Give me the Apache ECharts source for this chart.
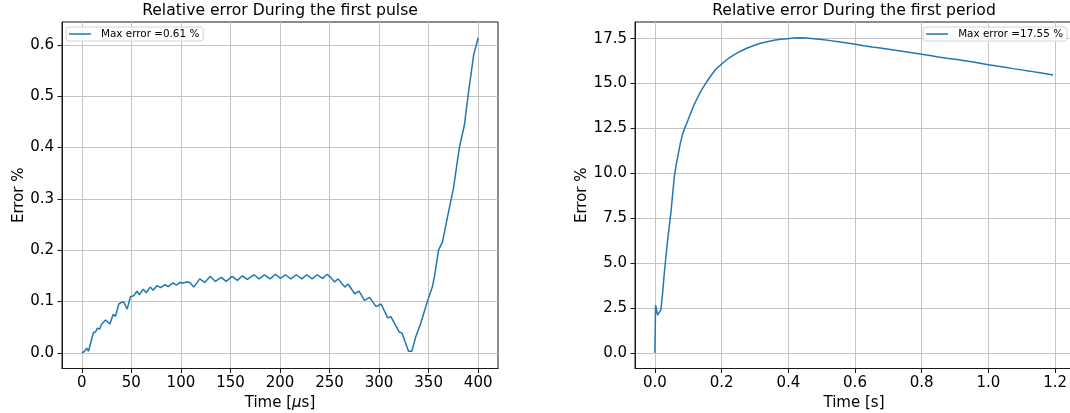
<!DOCTYPE html>
<html>
<head>
<meta charset="utf-8">
<script src="https://cdn.jsdelivr.net/npm/echarts@6/dist/echarts.min.js"></script>
<style>
html,body{margin:0;padding:0;background:#fff;}
#chart{width:1070px;height:413px;}
</style>
</head>
<body>
<div id="chart"></div>
<script>
// ---- Data ----
const pulseTime = [0,2.3,5,6.7,8.3,11.7,14,15.7,18,19.7,21.7,24,25.7,28.3,31.7,34,37.3,40,42.3,45.7,49,52.3,55.7,58,62,65,69,72,76,79.7,84,87,92,95.7,99,102,106,109,113,119,124,129.7,134.7,140.7,145.7,151.7,157,162,167,173.7,179,184.3,190,195.4,200.5,205.4,211,216.4,222,227,232.5,237.6,243,247.6,251,255,258.6,265.4,268.7,275.4,279.7,285.3,290.4,297,302,308.7,312,320.4,323,329.7,333,337,342,343.7,348.7,353.7,356,360,364,370,375,381,386,390,395.5,400];
const pulseErr = [0,0.002,0.009,0.003,0.0,0.039,0.041,0.048,0.046,0.055,0.052,0.064,0.066,0.056,0.075,0.071,0.095,0.098,0.099,0.085,0.109,0.111,0.120,0.113,0.124,0.117,0.128,0.122,0.131,0.127,0.133,0.129,0.136,0.132,0.137,0.136,0.138,0.137,0.128,0.144,0.137,0.149,0.139,0.147,0.139,0.149,0.141,0.150,0.143,0.152,0.144,0.152,0.144,0.153,0.145,0.152,0.144,0.152,0.144,0.152,0.144,0.152,0.145,0.153,0.147,0.138,0.144,0.128,0.134,0.115,0.120,0.102,0.108,0.090,0.095,0.068,0.070,0.040,0.039,0.003,0.003,0.031,0.057,0.059,0.100,0.128,0.150,0.200,0.216,0.274,0.320,0.400,0.443,0.504,0.581,0.614];

const periodTime = [0,0.002,0.008,0.012,0.018,0.023,0.028,0.033,0.038,0.043,0.048,0.053,0.058,0.064,0.070,0.076,0.083,0.090,0.098,0.108,0.118,0.128,0.138,0.148,0.158,0.170,0.182,0.195,0.207,0.222,0.237,0.257,0.277,0.297,0.317,0.337,0.357,0.377,0.397,0.416,0.436,0.456,0.476,0.501,0.526,0.551,0.576,0.601,0.626,0.651,0.676,0.701,0.726,0.751,0.776,0.800,0.825,0.850,0.875,0.900,0.925,0.950,0.975,1.000,1.025,1.050,1.074,1.099,1.124,1.159,1.194];
const periodErr = [0,2.65,2.1,2.05,2.4,3.3,4.4,5.35,6.25,7.05,7.8,8.8,9.77,10.5,11.07,11.65,12.18,12.55,12.9,13.38,13.84,14.22,14.58,14.88,15.17,15.49,15.78,16.0,16.2,16.42,16.6,16.8,16.98,17.12,17.24,17.33,17.41,17.46,17.5,17.53,17.55,17.53,17.5,17.45,17.39,17.33,17.26,17.19,17.11,17.04,16.98,16.91,16.84,16.77,16.7,16.63,16.56,16.48,16.41,16.35,16.28,16.21,16.13,16.05,15.97,15.9,15.83,15.76,15.69,15.58,15.47];

const pulseXTicks = [0,50,100,150,200,250,300,350,400];
const pulseYTicks = [0,0.1,0.2,0.3,0.4,0.5,0.6];
const periodXTicks = [0,0.2,0.4,0.6,0.8,1.0,1.2];
const periodYTicks = [0,2.5,5,7.5,10,12.5,15,17.5];

const titles = ['Relative error During the first pulse','Relative error During the first period'];
const seriesNames = ['Max error =0.61 %','Max error =17.55 %'];

// ---- Styling ----
const FONT = 'DejaVu Sans';
const LINE = '#1f77b4';
const FRAME = '#1a1a1a';
const GRIDC = '#c4c4c4';
const TICKFS = 15;
const NAMEFS = 15;

function xAxisCfg(idx, min, max, ticks, fmt, name){
  return {
    type:'value', gridIndex:idx, min:min, max:max,
    name:name, nameLocation:'middle', nameGap:22,
    nameTextStyle:{fontFamily:FONT,fontSize:NAMEFS,color:'#000',
      rich:{i:{fontFamily:FONT,fontSize:NAMEFS,fontStyle:'italic',color:'#000'}}},
    axisLine:{show:true,onZero:false,lineStyle:{color:FRAME,width:1}},
    axisTick:{show:true,inside:false,length:4.5,lineStyle:{color:FRAME,width:1},customValues:ticks},
    axisLabel:{show:true,margin:7,fontFamily:FONT,fontSize:TICKFS,color:'#000',customValues:ticks,formatter:fmt,hideOverlap:false,showMinLabel:true,showMaxLabel:true},
    splitLine:{show:true,lineStyle:{color:GRIDC,width:1}},
    minorTick:{show:false}
  };
}
function yAxisCfg(idx, min, max, ticks, fmt, gap){
  return {
    type:'value', gridIndex:idx, min:min, max:max,
    name:'Error %', nameLocation:'middle', nameGap:gap, nameRotate:90,
    nameTextStyle:{fontFamily:FONT,fontSize:NAMEFS,color:'#000'},
    axisLine:{show:true,onZero:false,lineStyle:{color:FRAME,width:1}},
    axisTick:{show:true,inside:false,length:4.5,lineStyle:{color:FRAME,width:1},customValues:ticks},
    axisLabel:{show:true,margin:8,fontFamily:FONT,fontSize:TICKFS,color:'#000',customValues:ticks,formatter:fmt,hideOverlap:false},
    splitLine:{show:true,lineStyle:{color:GRIDC,width:1}},
    minorTick:{show:false}
  };
}
function legendCfg(name, pos){
  return Object.assign({
    data:[name], top:27, orient:'horizontal',
    icon:'rect', itemWidth:22, itemHeight:1.5,
    padding:[2,4,2,3],
    backgroundColor:'rgba(255,255,255,0.8)', borderColor:'#d4d4d4', borderWidth:1, borderRadius:3,
    textStyle:{fontFamily:FONT,fontSize:10.4,color:'#000',padding:[0,0,0,5]},
    selectedMode:false
  }, pos);
}

const chart = echarts.init(document.getElementById('chart'), null, {renderer:'canvas'});
chart.setOption({
  animation:false,
  backgroundColor:'#fff',
  title:[
    {text:titles[0], left:280, top:3, textAlign:'center', padding:0,
     textStyle:{fontFamily:FONT,fontSize:15.6,fontWeight:'normal',color:'#000'}},
    {text:titles[1], left:854, top:3, textAlign:'center', padding:0,
     textStyle:{fontFamily:FONT,fontSize:15.6,fontWeight:'normal',color:'#000'}}
  ],
  legend:[
    legendCfg(seriesNames[0], {left:66}),
    legendCfg(seriesNames[1], {right:3})
  ],
  grid:[
    {left:62, top:22, width:436, height:346.5, show:true, borderColor:FRAME, borderWidth:1, backgroundColor:'transparent', containLabel:false, outerBoundsMode:'none'},
    {left:635, top:22, width:438, height:346.5, show:true, borderColor:FRAME, borderWidth:1, backgroundColor:'transparent', containLabel:false, outerBoundsMode:'none'}
  ],
  xAxis:[
    xAxisCfg(0, -20, 420, pulseXTicks, v => String(Math.round(v)), 'Time [{i|μ}s]'),
    xAxisCfg(1, -0.0597, 1.2537, periodXTicks, v => v.toFixed(1), 'Time [s]')
  ],
  yAxis:[
    yAxisCfg(0, -0.0307, 0.6447, pulseYTicks, v => v.toFixed(1), 34),
    yAxisCfg(1, -0.8775, 18.4275, periodYTicks, v => v.toFixed(1), 43)
  ],
  series:[
    {name:seriesNames[0], type:'line', xAxisIndex:0, yAxisIndex:0,
     data:pulseTime.map((t,i)=>[t,pulseErr[i]]),
     showSymbol:false, smooth:false, lineStyle:{color:LINE,width:1.5}, itemStyle:{color:LINE}},
    {name:seriesNames[1], type:'line', xAxisIndex:1, yAxisIndex:1,
     data:periodTime.map((t,i)=>[t,periodErr[i]]),
     showSymbol:false, smooth:false, lineStyle:{color:LINE,width:1.5}, itemStyle:{color:LINE}}
  ]
});
</script>
</body>
</html>
